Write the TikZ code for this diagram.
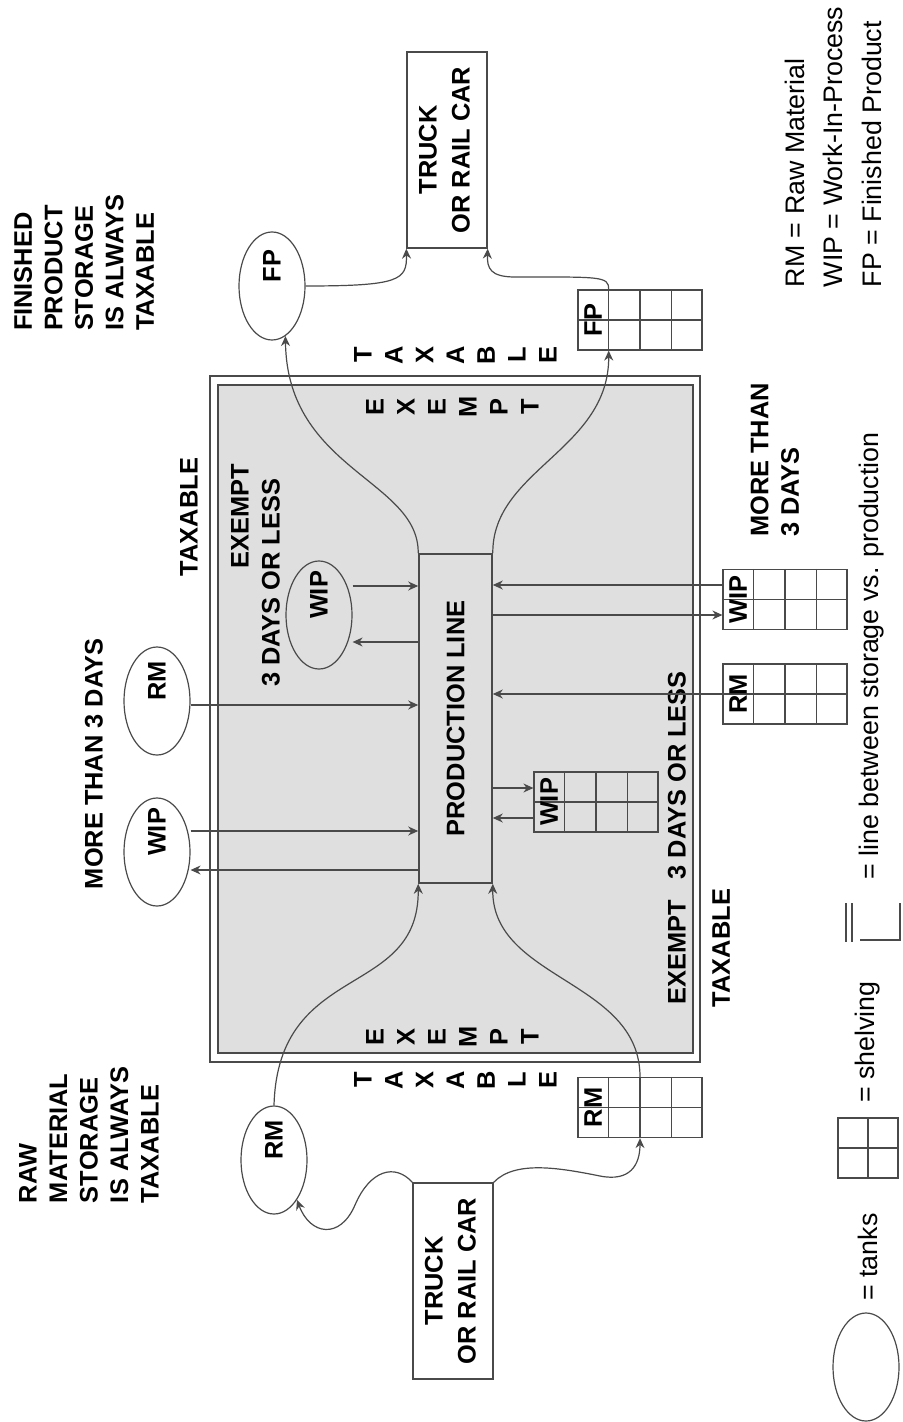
\documentclass[tikz,border=0pt]{standalone}
\usepackage{fontspec}
\setmainfont{Liberation Sans}
\usetikzlibrary{arrows.meta,calc,shapes.geometric}
\definecolor{plantgray}{HTML}{DFDFDF}
\definecolor{inkgray}{HTML}{4A4A4A}
\newcommand{\lblfont}{\fontsize{12.7}{15.25}\selectfont\bfseries}
\newcommand{\keyfont}{\fontsize{13.4}{19.25}\selectfont}
\newcommand{\vtext}[1]{\rotatebox{90}{#1}}
\tikzset{
  zone line/.style={draw=inkgray,line width=0.9pt},
  line node/.style={draw=inkgray,line width=0.8pt,fill=plantgray,
    minimum width=36.5pt,minimum height=164.5pt,inner sep=0pt,font=\lblfont},
  tank node/.style={ellipse,draw=inkgray,line width=0.6pt,
    minimum width=33pt,minimum height=54pt,inner sep=0pt},
  tank text/.style={yshift=10pt,rotate=90,font=\lblfont,inner sep=0pt},
  truck node/.style={draw=inkgray,line width=0.7pt,minimum width=40pt,
    minimum height=98pt,inner sep=0pt,font=\lblfont},
  shelf node/.style={draw=inkgray,line width=0.6pt,minimum width=62pt,
    minimum height=30pt,inner sep=0pt},
  shelf line/.style={draw=inkgray,line width=0.6pt},
  side text/.style={rotate=90,font=\lblfont,inner sep=0pt},
  key text/.style={rotate=90,font=\keyfont,inner sep=0pt},
  spaced letter/.style={rotate=90,font=\lblfont,inner sep=0pt},
  flow arrow/.style={draw=inkgray,line width=0.6pt,
    -{Stealth[length=5pt,width=4.5pt]}},
}
% shelving: name, centre, tag
\newcommand{\shelving}[3]{%
  \node[shelf node] (#1) at (#2) {};
  \foreach \f in {0.25,0.5,0.75}
    \draw[shelf line] ($(#1.north west)!\f!(#1.north east)$) --
      ($(#1.south west)!\f!(#1.south east)$);
  \draw[shelf line] (#1.west) -- (#1.east);
  \node[side text] (#1 tag) at ($(#1.west)!0.125!(#1.east)$) {#3};}

\begin{document}
\begin{tikzpicture}[x=0.5pt,y=-0.5pt]
  \useasboundingbox (0,0) rectangle (903,1422);

  % Plant boundary
  \draw[zone line] (210,376) rectangle (700,1062);
  \draw[zone line,fill=plantgray] (218,385) rectangle (693,1053);
  \foreach \ch [count=\i from 0] in {T,A,X,A,B,L,E} {
    \node[spaced letter] (taxN\i) at ({363+30.8*\i},355) {\ch};
    \node[spaced letter] (taxS\i) at ({363+30.8*\i},1080) {\ch};
  }
  \foreach \ch [count=\i from 0] in {E,X,E,M,P,T} {
    \node[spaced letter] (exN\i) at ({375+31*\i},407) {\ch};
    \node[spaced letter] (exS\i) at ({375+31*\i},1037) {\ch};
  }

  \node[line node] (pl) at (455.5,718.5) {\vtext{PRODUCTION LINE}};

  % Tanks and shelving
  \node[tank node,label={[tank text]center:FP}] (fpT) at (272,286) {};
  \node[tank node,label={[tank text]center:RM}] (rmT) at (274,1160) {};
  \node[tank node,label={[tank text]center:RM}] (rmOut) at (157,701) {};
  \node[tank node,label={[tank text]center:WIP}] (wipOut) at (157,852) {};
  \node[tank node,label={[tank text]center:WIP}] (wipT) at (319,615) {};
  \shelving{fpS}{640,320}{FP}
  \shelving{rmS}{640,1107.5}{RM}
  \shelving{wipS}{785,599.5}{WIP}
  \shelving{rmSo}{785,694}{RM}
  \shelving{wipSi}{596,802}{WIP}

  \node[truck node] (tr1) at (447,150)
    {\vtext{\begin{tabular}{@{}c@{}}TRUCK\\[1.2pt]OR RAIL CAR\end{tabular}}};
  \node[truck node] (tr2) at (453,1281)
    {\vtext{\begin{tabular}{@{}c@{}}TRUCK\\[1.2pt]OR RAIL CAR\end{tabular}}};

  % Zone notes
  \node[side text] (taxL) at (189,517) {TAXABLE};
  \node[side text] (exL) at (240,516) {EXEMPT};
  \node[side text] (daysL) at (271,583) {3 DAYS OR LESS};
  \node[side text] (moreL) at (94,764) {MORE THAN 3 DAYS};
  \node[side text] (exR) at (677,838) {EXEMPT~~~3 DAYS OR LESS};
  \node[side text] (taxR) at (721,948) {TAXABLE};
  \node[side text,align=left] (moreR) at (775,460) {MORE THAN\\3 DAYS};
  \node[side text,align=left] (fpNote) at (84,263)
    {FINISHED\\PRODUCT\\STORAGE\\IS ALWAYS\\TAXABLE};
  \node[side text,align=left] (rmNote) at (89,1135)
    {RAW\\MATERIAL\\STORAGE\\IS ALWAYS\\TAXABLE};

  % Flows in and out of the line
  \draw[flow arrow] (wipT.east |- 0,586) -- (pl.west |- 0,586);
  \draw[flow arrow] (pl.west |- 0,642) -- (wipT.east |- 0,642);
  \draw[flow arrow] (rmOut.east |- 0,705) -- (pl.west |- 0,705);
  \draw[flow arrow] (wipOut.east |- 0,831) -- (pl.west |- 0,831);
  \draw[flow arrow] (pl.west |- 0,870) -- (wipOut.east |- 0,870);
  \draw[flow arrow] (wipS.west |- 0,585) -- (pl.east |- 0,585);
  \draw[flow arrow] (pl.east |- 0,615) -- (wipS.west |- 0,615);
  \draw[flow arrow] (rmSo.west) -- (pl.east |- rmSo.west);
  \draw[flow arrow] (pl.east |- 0,788) -- (wipSi.west |- 0,788);
  \draw[flow arrow] (wipSi.west |- 0,818) -- (pl.east |- 0,818);
  \draw[flow arrow] (pl.north west) .. controls (419,480) and (287,470) .. (fpT.-75);
  \draw[flow arrow] (pl.north east) .. controls (492,470) and (609,450)
    .. ($(fpS.south west)!0.25!(fpS.south east)$);
  \draw[flow arrow] (rmT.north) .. controls (278,960) and (419,1000) .. (pl.south west);
  \draw[flow arrow] (rmS.north) .. controls (640,980) and (492,980) .. (pl.south east);

  % Trucks
  \draw[flow arrow] (tr2.north west) .. controls (395,1163) and (370,1170) .. (355,1205)
    .. controls (340,1240) and (310,1235) .. (rmT.-60);
  \draw[flow arrow] (tr2.north east) .. controls (515,1160) and (560,1168) .. (600,1176)
    .. controls (630,1182) and (640,1165) .. (rmS.south);
  \draw[flow arrow] (fpT.east) .. controls (400,286) and (407,280) .. (tr1.south west);
  \draw[flow arrow] ($(fpS.north west)!0.25!(fpS.north east)$) .. controls (609,276)
    and (600,277) .. (515,277) .. controls (490,277) and (487,268) .. (tr1.south east);

  % Key
  \node[key text,align=left] (abbr) at (833,147)
    {RM = Raw Material\\WIP = Work-In-Process\\FP = Finished Product};
  \node[key text] (keyLine) at (872,656) {= line between storage vs. production};
  \draw[zone line] (846,903) -- (846,942) (852,903) -- (852,942);
  \draw[zone line] (860,940) -- (900,940) -- (900,903);
  \node[shelf node,minimum width=30pt] (keyShelf) at (868,1148) {};
  \draw[shelf line] (keyShelf.north) -- (keyShelf.south);
  \draw[shelf line] (keyShelf.west) -- (keyShelf.east);
  \node[key text] (keyShelfTxt) at (868,1042) {= shelving};
  \node[tank node] (keyTank) at (866,1367) {};
  \node[key text] (keyTankTxt) at (868,1257) {= tanks};
\end{tikzpicture}
\end{document}
